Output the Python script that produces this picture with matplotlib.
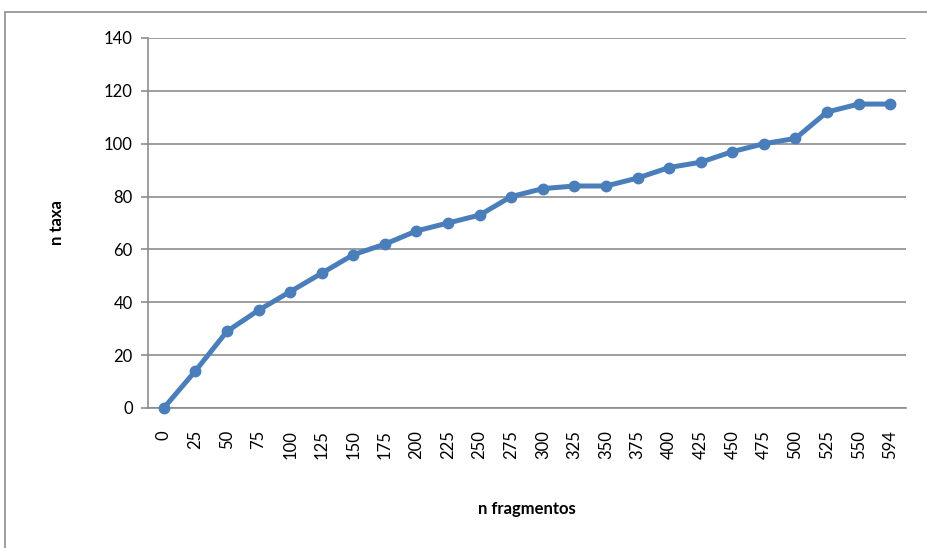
import matplotlib
matplotlib.use("Agg")
import matplotlib.pyplot as plt
from matplotlib.patches import Rectangle

categories = ["0", "25", "50", "75", "100", "125", "150", "175", "200", "225", "250", "275",
              "300", "325", "350", "375", "400", "425", "450", "475", "500", "525", "550", "594"]
n_taxa = [0, 14, 29, 37, 44, 51, 58, 62, 67, 70, 73, 80,
          83, 84, 84, 87, 91, 93, 97, 100, 102, 112, 115, 115]
y_ticks = [0, 20, 40, 60, 80, 100, 120, 140]

plt.rcParams['font.family'] = ['Lato', 'DejaVu Sans']

W, H = 927, 548
fig = plt.figure(figsize=(W / 100, H / 100), dpi=100)
fig.patches.append(Rectangle((5 / W, -0.1), 1.2, (H - 12) / H + 0.1, transform=fig.transFigure,
                             fill=False, edgecolor='#8c8c8c', linewidth=1.2))

ax = fig.add_axes([148 / W, (H - 408) / H, 758 / W, 370 / H])
x = list(range(len(categories)))
ax.plot(x, n_taxa, color='#4A7EBB', linewidth=3.6, marker='o', markersize=7.5,
        markerfacecolor='#4A7EBB', markeredgecolor='#4A7EBB', solid_joinstyle='round', zorder=3,
        clip_on=False)
ax.set_xlim(-0.5, len(categories) - 0.5)
ax.set_ylim(0, 140)
ax.set_yticks(y_ticks)
ax.set_yticklabels([str(v) for v in y_ticks], fontsize=12)
ax.set_xticks(x)
ax.set_xticklabels(categories, rotation=90, fontsize=12)
ax.yaxis.grid(True, color='#8c8c8c', linewidth=1.2)
ax.set_axisbelow(True)
for s in ['top', 'right']:
    ax.spines[s].set_visible(False)
for s in ['left', 'bottom']:
    ax.spines[s].set_color('#8c8c8c')
    ax.spines[s].set_linewidth(1.2)
ax.tick_params(axis='y', length=5, color='#8c8c8c', width=1.2, pad=6)
ax.tick_params(axis='x', length=0, pad=16)
ax.set_ylabel('n taxa', fontsize=12, fontweight='bold', labelpad=28)
ax.set_xlabel('n fragmentos', fontsize=12, fontweight='bold', labelpad=30)

fig.savefig('out.png', dpi=100)
